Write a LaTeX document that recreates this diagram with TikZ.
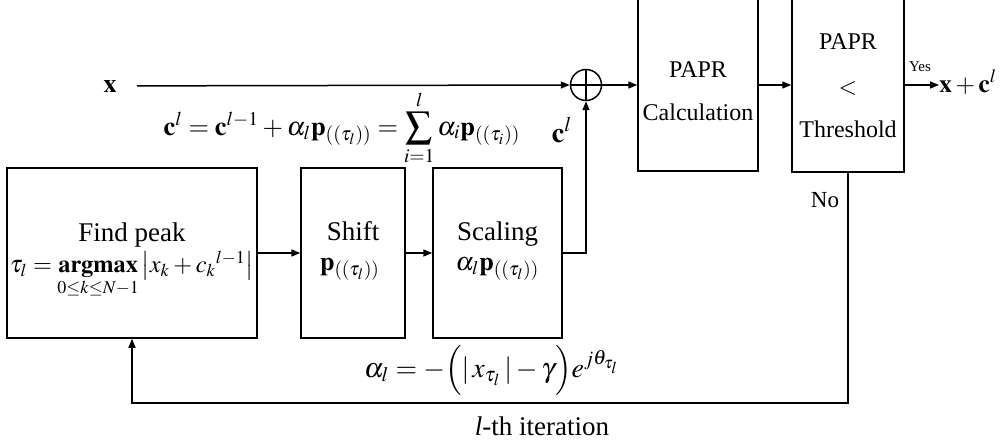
\documentclass[tikz,border=0pt]{standalone}
\usepackage{mathptmx}
\usepackage{fontspec}
\setmainfont{Liberation Serif}
\usetikzlibrary{arrows.meta}

\begin{document}
\begin{tikzpicture}[x=0.5pt, y=-0.5pt,
    blk/.style={draw=black, line width=0.75pt, inner sep=0pt},
    wire/.style={draw=black, line width=0.75pt},
    arr/.style={wire, -{Triangle[length=4.5pt,width=3.5pt]}},
    lab/.style={font=\fontsize{13.5}{15}\selectfont, inner sep=0pt},
    sm/.style={font=\fontsize{12}{14}\selectfont, inner sep=0pt},
    eq/.style={font=\fontsize{13}{15}\selectfont, inner sep=0pt},
    tag/.style={font=\fontsize{7.5}{9}\selectfont, inner sep=0pt}]
  \useasboundingbox (0,0) rectangle (1005,444);
  \clip (0,0) rectangle (1005,444);
  % blocks
  \node[blk, minimum width=125pt, minimum height=85pt] (find) at (132,253) {};
  \node[blk, minimum width=52pt, minimum height=85pt] (shift) at (353,253) {};
  \node[blk, minimum width=64.5pt, minimum height=85pt] (scal) at (497.5,253) {};
  \node[blk, minimum width=60pt, minimum height=95.5pt] (calc) at (698,75.5) {};
  \node[blk, minimum width=56pt, minimum height=96pt] (thr) at (848,76) {};
  \node[blk, circle, minimum size=15.5pt,
        path picture={\draw[wire] (path picture bounding box.north) -- (path picture bounding box.south)
                      (path picture bounding box.west) -- (path picture bounding box.east);}] (sum) at (586,85) {};
  % texts in blocks
  \node[lab, anchor=base] at (132,241) {Find peak};
  \node[eq, anchor=base, font=\fontsize{12.2}{14}\selectfont] at (132,272)
    {$\tau_l=\mathop{\mathbf{argmax}}\limits_{0\le k\le N-1}\left|x_k+c_k{}^{l-1}\right|$};
  \node[lab, anchor=base] at (353,240) {Shift};
  \node[eq, anchor=base] at (350,270) {$\mathbf{p}_{((\tau_l))}$};
  \node[lab, anchor=base] at (497.5,240) {Scaling};
  \node[eq, anchor=base] at (497.5,270) {$\alpha_l\mathbf{p}_{((\tau_l))}$};
  \node[sm, anchor=base] at (698,77) {PAPR};
  \node[sm, anchor=base] at (698,120) {Calculation};
  \node[sm, anchor=base] at (848,50) {PAPR};
  \node[sm] at (848,88) {$<$};
  \node[sm, anchor=base] at (848,137) {Threshold};
  % signals
  \node[eq, anchor=base] (xin) at (110,92) {$\mathbf{x}$};
  \node[eq, anchor=base west, font=\fontsize{12.6}{14}\selectfont] (out) at (939,92) {$\mathbf{x}+\mathbf{c}^{l}$};
  \node[eq, anchor=base, font=\fontsize{14}{16}\selectfont] (cl) at (562,142) {$\mathbf{c}^{l}$};
  \node[eq, anchor=base, font=\fontsize{13.2}{15}\selectfont] (upd) at (342,135)
    {$\mathbf{c}^{l}=\mathbf{c}^{l-1}+\alpha_l\mathbf{p}_{((\tau_l))}=\displaystyle\sum_{i=1}^{l}\alpha_i\mathbf{p}_{((\tau_i))}$};
  \node[eq, anchor=base, font=\fontsize{13.9}{16}\selectfont] (amp) at (492,377)
    {$\alpha_l=-\Bigl(\mathrm{|}\, x_{\tau_l}\,\mathrm{|}-\gamma\Bigr)e^{j\theta_{\tau_l}}$};
  \node[tag, anchor=base] (yes) at (920,72) {Yes};
  \node[sm, anchor=base, font=\fontsize{11.5}{13}\selectfont] (no) at (825,207) {No};
  \node[lab, anchor=base] (iter) at (542,435) {\textit{l}-th iteration};
  % connectors
  \draw[arr, shorten <=10pt] (xin.east) -- (sum.west);
  \draw[arr] (sum.east) -- (sum.east -| calc.west);
  \draw[arr] (calc.east |- sum) -- (thr.west |- sum);
  \draw[arr] (thr.east |- sum) -- (out.west |- sum);
  \draw[arr] (find.east) -- (shift.west);
  \draw[arr] (shift.east) -- (scal.west);
  \draw[arr] (scal.east) -| (sum.south);
  \draw[arr] (thr.south) -- ++(0,230) -| (find.south);
\end{tikzpicture}
\end{document}
